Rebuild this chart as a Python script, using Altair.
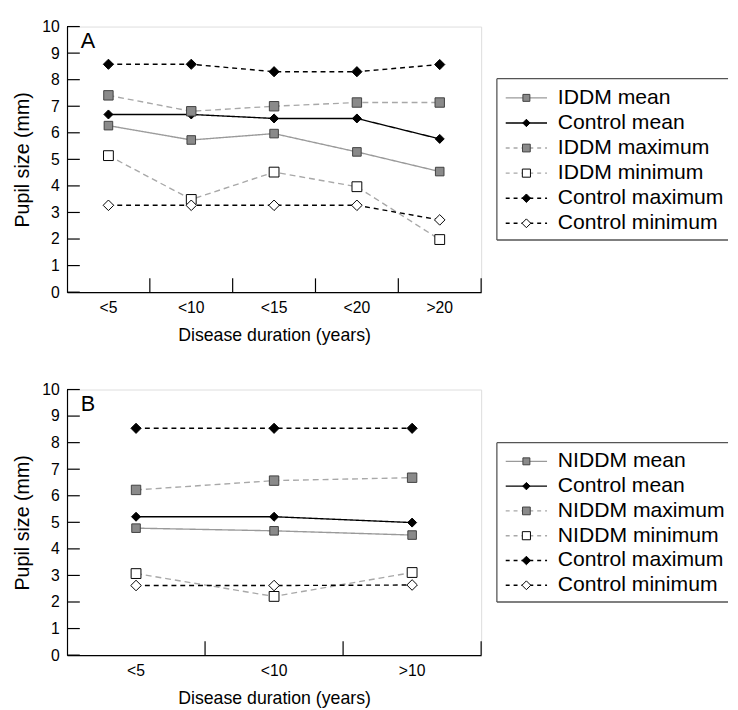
import altair as alt
import pandas as pd

FONT = "Liberation Sans"

# ---------------- data ----------------
cats_a = ["<5", "<10", "<15", "<20", ">20"]
names_a = ["IDDM mean", "Control mean", "IDDM maximum", "IDDM minimum",
           "Control maximum", "Control minimum"]
iddm_mean = [6.27, 5.73, 5.97, 5.28, 4.54]
control_mean_a = [6.69, 6.69, 6.54, 6.54, 5.77]
iddm_max = [7.41, 6.81, 7.00, 7.14, 7.14]
iddm_min = [5.14, 3.49, 4.52, 3.97, 1.98]
control_max_a = [8.58, 8.58, 8.30, 8.30, 8.57]
control_min_a = [3.27, 3.27, 3.27, 3.27, 2.72]

cats_b = ["<5", "<10", ">10"]
names_b = ["NIDDM mean", "Control mean", "NIDDM maximum", "NIDDM minimum",
           "Control maximum", "Control minimum"]
niddm_mean = [4.78, 4.68, 4.52]
control_mean_b = [5.21, 5.21, 4.99]
niddm_max = [6.22, 6.57, 6.68]
niddm_min = [3.07, 2.21, 3.11]
control_max_b = [8.54, 8.54, 8.54]
control_min_b = [2.62, 2.62, 2.64]

y_ticks = [0, 1, 2, 3, 4, 5, 6, 7, 8, 9, 10]

# ---------------- styles (per series, same order as names) ----------------
line_colors = ["#9a9a9a", "#000000", "#a8a8a8", "#a8a8a8", "#000000", "#000000"]
dashes = [[1, 0], [1, 0], [6, 4], [6, 4], [5, 4], [5, 4]]
leg_dashes = [[1, 0], [1, 0], [4, 4], [4, 4], [4, 4], [4, 4]]
shapes = ["square", "diamond", "square", "square", "diamond", "diamond"]
fills = ["#8a8a8a", "#000000", "#8a8a8a", "#ffffff", "#000000", "#ffffff"]
strokes = ["#404040", "#000000", "#404040", "#000000", "#000000", "#000000"]
sizes = [76, 115, 76, 76, 115, 115]
leg_sizes = [50, 80, 50, 50, 80, 80]

W, H = 421, 270


def panel(cats, names, series, letter, leg_range, box_y, label_pad, title_pad):
    rows = []
    for name, vals in zip(names, series):
        for c, v in zip(cats, vals):
            rows.append({"series": name, "cat": c, "value": v})
    df = pd.DataFrame(rows)
    leg_df = pd.DataFrame({"series": names})

    xscale = alt.Scale(type="band", domain=cats, paddingInner=0, paddingOuter=0)
    xaxis = alt.Axis(title="Disease duration (years)", labelAngle=0, ticks=False,
                     tickSize=0, labelPadding=label_pad, titlePadding=title_pad,
                     domainColor="black", domainWidth=1.2, labelColor="black",
                     labelFont=FONT, labelFontSize=16, titleFont=FONT,
                     titleFontSize=18, titleFontWeight="normal", titleColor="black")
    yscale = alt.Scale(domain=[0, 10], nice=False, zero=True)
    yaxis = alt.Axis(title="Pupil size (mm)", values=y_ticks, ticks=False, tickSize=0,
                     labelPadding=8, titlePadding=9, grid=False,
                     domainColor="black", domainWidth=1.2, labelColor="black",
                     labelFont=FONT, labelFontSize=16, titleFont=FONT,
                     titleFontSize=20, titleFontWeight="normal", titleColor="black")

    x = alt.X("cat:N", sort=cats, scale=xscale, axis=xaxis)
    y = alt.Y("value:Q", scale=yscale, axis=yaxis)
    color = alt.Color("series:N", scale=alt.Scale(domain=names, range=line_colors), legend=None)
    dash = alt.StrokeDash("series:N", scale=alt.Scale(domain=names, range=dashes), legend=None)
    shape = alt.Shape("series:N", scale=alt.Scale(domain=names, range=shapes), legend=None)
    fill = alt.Fill("series:N", scale=alt.Scale(domain=names, range=fills), legend=None)
    stroke = alt.Stroke("series:N", scale=alt.Scale(domain=names, range=strokes), legend=None)

    lines = alt.Chart(df).mark_line(strokeWidth=1.4).encode(
        x=x, y=y, color=color, strokeDash=dash)
    points = alt.Chart(df).mark_point(opacity=1, fillOpacity=1, strokeWidth=1).encode(
        x=x, y=y, shape=shape, fill=fill, stroke=stroke,
        size=alt.Size("series:N", scale=alt.Scale(domain=names, range=sizes), legend=None))

    yt = alt.Chart(pd.DataFrame({"value": y_ticks})).mark_rule(
        color="black", strokeWidth=1.2).encode(
        y=y, x=alt.value(0), x2=alt.value(13))
    xt = alt.Chart(pd.DataFrame({"cat": cats})).mark_rule(
        color="black", strokeWidth=1.2).encode(
        x=alt.X("cat:N", sort=cats, scale=xscale, axis=xaxis, bandPosition=1),
        y=alt.value(H - 14), y2=alt.value(H))
    lab = alt.Chart(pd.DataFrame({"t": [letter]})).mark_text(
        align="left", baseline="alphabetic", font=FONT, fontSize=22, color="black").encode(
        text="t:N", x=alt.value(14), y=alt.value(22))

    main = alt.layer(lines, points, yt, xt, lab)

    # ---- legend (drawn to the right of the plot area) ----
    ly = alt.Y("series:N", sort=names,
               scale=alt.Scale(type="point", domain=names, range=leg_range, padding=0),
               axis=None)
    one = pd.DataFrame({"k": [0]})
    bx0, bx1 = 437, 672
    by0, by1 = box_y
    box_style = dict(color="#555555", strokeWidth=1.3)
    b_top = alt.Chart(one).mark_rule(**box_style).encode(
        x=alt.value(bx0), x2=alt.value(bx1), y=alt.value(by0))
    b_bot = alt.Chart(one).mark_rule(**box_style).encode(
        x=alt.value(bx0), x2=alt.value(bx1), y=alt.value(by1))
    b_left = alt.Chart(one).mark_rule(**box_style).encode(
        x=alt.value(bx0), y=alt.value(by0), y2=alt.value(by1))
    l_lines = alt.Chart(leg_df).mark_rule(strokeWidth=1.4).encode(
        y=ly, x=alt.value(446), x2=alt.value(488), color=color,
        strokeDash=alt.StrokeDash("series:N", scale=alt.Scale(domain=names, range=leg_dashes),
                                  legend=None))
    l_pts = alt.Chart(leg_df).mark_point(opacity=1, fillOpacity=1, strokeWidth=1).encode(
        y=ly, x=alt.value(467), shape=shape, fill=fill, stroke=stroke,
        size=alt.Size("series:N", scale=alt.Scale(domain=names, range=leg_sizes), legend=None))
    l_txt = alt.Chart(leg_df).mark_text(
        align="left", baseline="middle", font=FONT, fontSize=21.5, color="black").encode(
        y=ly, x=alt.value(499), text="series:N")
    legend = alt.layer(b_top, b_bot, b_left, l_lines, l_pts, l_txt)

    return alt.layer(main, legend).resolve_scale(
        y="independent", strokeDash="independent", size="independent"
    ).properties(width=W, height=H)


pa = panel(cats_a, names_a,
           [iddm_mean, control_mean_a, iddm_max, iddm_min, control_max_a, control_min_a],
           "A", [72.5, 200], (53, 217), 7.5, 12)
pb = panel(cats_b, names_b,
           [niddm_mean, control_mean_b, niddm_max, niddm_min, control_max_b, control_min_b],
           "B", [73, 199], (54, 216), 7.5, 12)

chart = alt.vconcat(pa, pb, spacing=36).resolve_scale(
    x="independent", y="independent", color="independent", shape="independent",
    fill="independent", stroke="independent", strokeDash="independent", size="independent"
).properties(
    padding={"left": 4, "top": 4, "right": 0, "bottom": 0}
).configure_view(stroke=None).configure(font=FONT)

chart.save("out.html", embed_options={"renderer": "svg", "actions": False})
